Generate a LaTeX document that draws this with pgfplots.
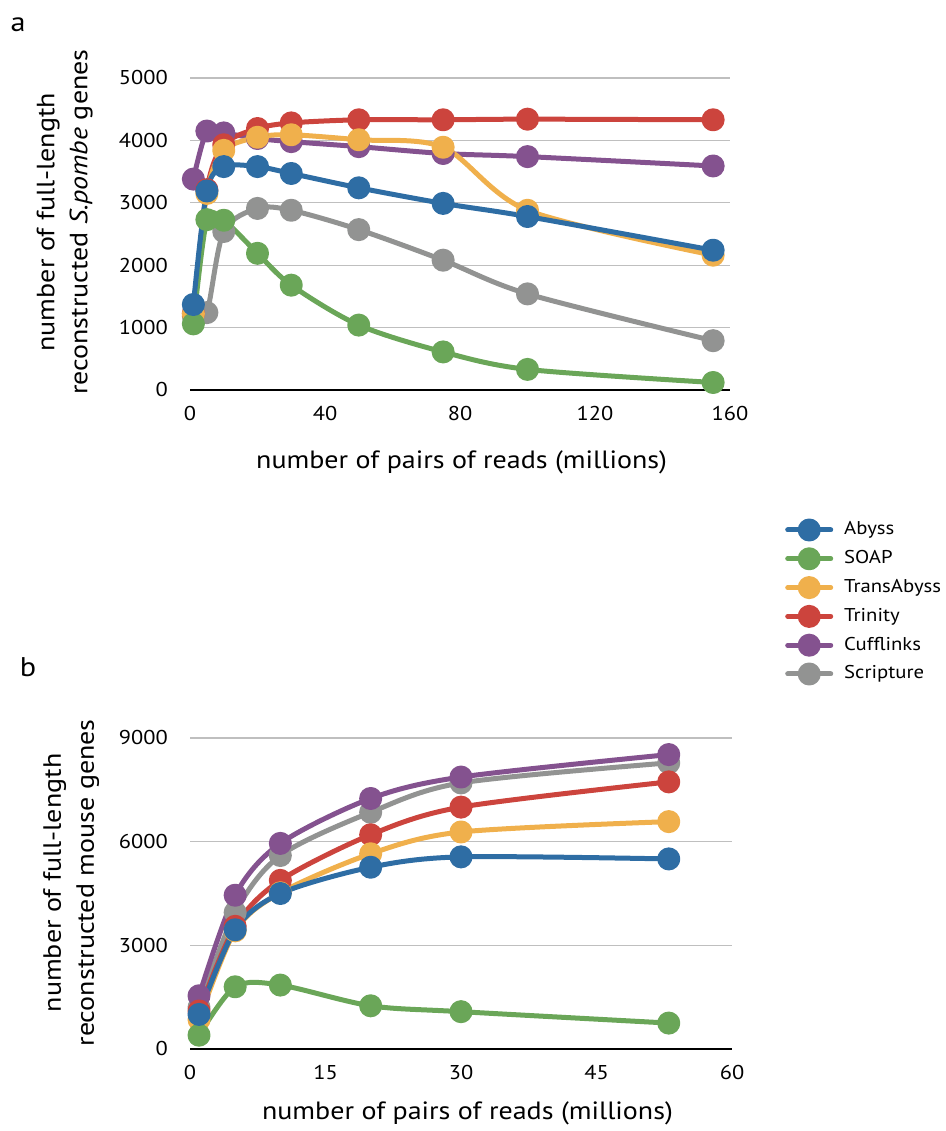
\documentclass[border=0pt]{standalone}
\usepackage{fontspec}
\setmainfont{PT Sans}[FakeStretch=1.12]
\usepackage{pgfplots}
\pgfplotsset{compat=1.18}

\definecolor{cAbyss}{RGB}{46,109,164}
\definecolor{cSOAP}{RGB}{106,166,88}
\definecolor{cTrans}{RGB}{240,176,76}
\definecolor{cTrin}{RGB}{204,68,61}
\definecolor{cCuff}{RGB}{132,82,143}
\definecolor{cScri}{RGB}{146,147,146}

\pgfplotsset{
 myaxis/.style={
  scale only axis, clip=false,
  axis lines*=left,
  axis line style={black, line width=1.6pt},
  y axis line style={draw=none},
  major tick length=0pt,
  ymajorgrids, grid style={draw=black!25, line width=1.3pt},
  tick label style={font=\fontsize{20}{24}\selectfont, inner sep=0pt},
  yticklabel style={xshift=-22pt},
  xticklabel style={yshift=-16pt},
  /pgf/number format/assume math mode=true,
  /pgf/number format/set thousands separator={},
  label style={font=\fontsize{25}{33}\selectfont},
  every axis plot/.append style={line width=5pt, smooth, mark=*, mark size=9pt, line cap=round, line join=round},
 },
 sA/.style={color=cAbyss, mark options={fill=cAbyss, draw=none}},
 sS/.style={color=cSOAP, mark options={fill=cSOAP, draw=none}},
 sT/.style={color=cTrans, mark options={fill=cTrans, draw=none}},
 sR/.style={color=cTrin, mark options={fill=cTrin, draw=none}},
 sC/.style={color=cCuff, mark options={fill=cCuff, draw=none}},
 sG/.style={color=cScri, mark options={fill=cScri, draw=none}},
}

\begin{document}
\begin{tikzpicture}
\useasboundingbox (0pt,0pt) rectangle (945pt,1131pt);
\node[anchor=center, font=\fontsize{27}{30}\selectfont] at (18pt,1106pt) {a};
\node[anchor=center, font=\fontsize{27}{30}\selectfont] at (28pt,464pt) {b};

% Panel a
\begin{axis}[myaxis,
  at={(190pt,741pt)}, anchor=south west,
  width=540pt, height=312pt,
  xmin=0, xmax=160, ymin=0, ymax=5000,
  xtick={0,40,...,160}, ytick={0,1000,...,5000},
  xlabel={number of pairs of reads (millions)},
  ylabel={number of full-length\\reconstructed \textit{S.pombe} genes},
  xlabel style={at={(rel axis cs:0.503,-0.231)}, anchor=center},
  ylabel style={at={(rel axis cs:-0.232,0.538)}, anchor=center, align=center},
  reverse legend,
  legend image code/.code={\draw[#1, mark repeat=2, mark phase=2] plot coordinates {(0pt,0pt) (21.5pt,0pt) (43pt,0pt)}; \path (0pt,-9pt) (54pt,9pt);},
  legend style={draw=none, fill=none, inner sep=0pt, at={(rel axis cs:1.1019,-0.6795)}, anchor=west,
    font=\fontsize{18.5}{22}\selectfont, row sep=5.8pt,
    nodes={inner sep=0pt, text height=14pt, text depth=4pt}},
  legend cell align=left,
]
\addplot[sG] coordinates {(1,1180)(5,1240)(10,2540)(20,2910)(30,2880)(50,2570)(75,2080)(100,1540)(155,790)};
\addlegendentry{Scripture}
\addplot[sC] coordinates {(1,3380)(5,4150)(10,4120)(20,4030)(30,3980)(50,3900)(75,3790)(100,3740)(155,3590)};
\addlegendentry{Cufflinks}
\addplot[sR] coordinates {(1,1230)(5,3210)(10,3930)(20,4190)(30,4280)(50,4330)(75,4330)(100,4340)(155,4330)};
\addlegendentry{Trinity}
\addplot[sT] coordinates {(1,1220)(5,3150)(10,3840)(20,4050)(30,4090)(50,4010)(75,3890)(100,2880)(155,2160)};
\addlegendentry{TransAbyss}
\addplot[sS] coordinates {(1,1060)(5,2730)(10,2720)(20,2190)(30,1680)(50,1040)(75,610)(100,330)(155,120)};
\addlegendentry{SOAP}
\addplot[sA] coordinates {(1,1370)(5,3190)(10,3580)(20,3580)(30,3470)(50,3240)(75,2990)(100,2780)(155,2240)};
\addlegendentry{Abyss}
\end{axis}

% Panel b
\begin{axis}[myaxis,
  at={(190pt,82pt)}, anchor=south west,
  width=542pt, height=311pt,
  xmin=0, xmax=60, ymin=0, ymax=9000,
  xtick={0,15,...,60}, ytick={0,3000,6000,9000},
  xlabel={number of pairs of reads (millions)},
  ylabel={number of full-length\\reconstructed mouse genes},
  xlabel style={at={(rel axis cs:0.512,-0.206)}, anchor=center},
  ylabel style={at={(rel axis cs:-0.219,0.534)}, anchor=center, align=center},
]
\addplot[sG] coordinates {(1,1200)(5,3950)(10,5600)(20,6850)(30,7700)(53,8280)};
\addplot[sC] coordinates {(1,1540)(5,4450)(10,5950)(20,7250)(30,7870)(53,8520)};
\addplot[sR] coordinates {(1,1100)(5,3550)(10,4880)(20,6200)(30,7000)(53,7730)};
\addplot[sT] coordinates {(1,850)(5,3420)(10,4520)(20,5650)(30,6280)(53,6580)};
\addplot[sS] coordinates {(1,400)(5,1800)(10,1850)(20,1250)(30,1080)(53,750)};
\addplot[sA] coordinates {(1,1000)(5,3450)(10,4500)(20,5260)(30,5560)(53,5500)};
\end{axis}
\end{tikzpicture}
\end{document}
